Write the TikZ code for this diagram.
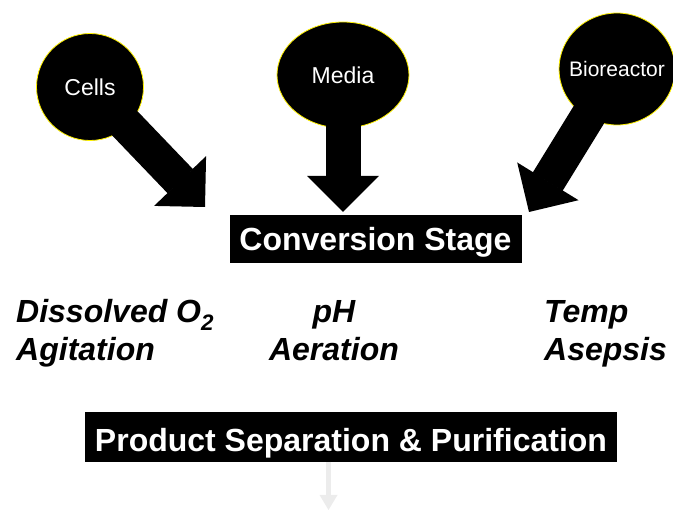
\documentclass[tikz,border=0pt]{standalone}
\usepackage{fontspec}
\setmainfont{Liberation Sans}
\usepackage{tikz}
\usetikzlibrary{calc}
\usetikzlibrary{shapes.geometric}
\newcommand{\blockarrow}[2]{%
  \coordinate (#1base) at ($(#2)!36pt!(#1.center)$);
  \draw[line width=35pt, shorten <=-6pt, shorten >=-0.5pt] (#1) -- (#1base);
  \fill ($(#1base)!36pt!90:(#2)$) -- (#2) -- ($(#1base)!36pt!-90:(#2)$) -- cycle;
}

\begin{document}
\begin{tikzpicture}

\tikzstyle{source}=[ellipse, fill=black, draw=yellow, line width=0.8pt, inner sep=0pt, inner xsep=-20pt, text=white, font=\fontsize{23pt}{27pt}\selectfont]
\tikzstyle{stage}=[fill=black, text=white, inner sep=0pt, text depth=0pt, font=\fontsize{32pt}{38pt}\selectfont\bfseries]
\tikzstyle{param}=[inner sep=0pt, font=\fontsize{32pt}{37pt}\selectfont\bfseries\itshape]

\useasboundingbox (0pt,0pt) rectangle (673pt,-510pt);

\node[source, minimum width=107pt, minimum height=107pt] at (90pt,-87pt) (cells) {Cells};
\node[source, minimum width=132pt, minimum height=106pt] at (343pt,-75pt) (media) {Media};
\node[source, minimum width=116pt, minimum height=112pt, font=\fontsize{21pt}{25pt}\selectfont] at (617pt,-69pt) (bioreactor) {Bioreactor};

\node[stage, minimum width=292pt, minimum height=48pt, text height=24pt] at (375.5pt,-239pt) (conversion) {Conversion Stage};

\coordinate (cellstip) at (205pt,-207pt);
\coordinate (mediatip) at (343pt,-212pt);
\coordinate (bioreactortip) at (529pt,-212pt);
\blockarrow{cells}{cellstip}
\blockarrow{media}{mediatip}
\blockarrow{bioreactor}{bioreactortip}

\node[param, anchor=base west] at (16pt,-323pt) (dissolved) {Dissolved O\textsubscript{2}};
\node[param, anchor=base west] at (16pt,-360.5pt) (agitation) {Agitation};
\node[param, anchor=base] at (334pt,-323pt) (ph) {pH};
\node[param, anchor=base] at (334pt,-360.5pt) (aeration) {Aeration};
\node[param, anchor=base west] at (544pt,-323pt) (temp) {Temp};
\node[param, anchor=base west] at (544pt,-360.5pt) (asepsis) {Asepsis};

\node[stage, minimum width=532pt, minimum height=50pt, text height=30pt] at (351pt,-436.7pt) (product) {Product Separation \& Purification};

\coordinate (producttip) at (328.5pt,-510pt);
\draw[line width=4.5pt, draw=gray!15] (product.south -| producttip) -- ($(producttip)+(0pt,15pt)$);
\fill[gray!15] ($(producttip)+(-9pt,15pt)$) -- (producttip) -- ($(producttip)+(9pt,15pt)$) -- cycle;

\end{tikzpicture}
\end{document}
